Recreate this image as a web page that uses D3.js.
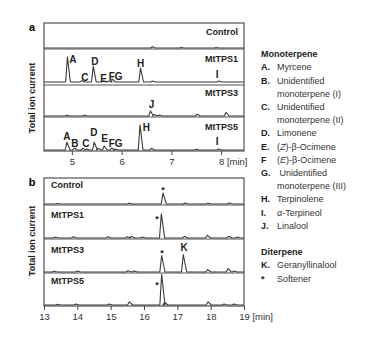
<!DOCTYPE html>
<html>
<head>
<meta charset="utf-8">
<script src="https://cdn.jsdelivr.net/npm/d3@7"></script>
<style>
  body { margin: 0; background: #fff; }
  svg { font-family: "Liberation Sans", Arial, sans-serif; }
</style>
</head>
<body>
<svg id="chart" width="369" height="340"></svg>
<script>
(function(){

  // DATA ////////////////////////////////////////////////////////////////////

  var samples = ["Control", "MtTPS1", "MtTPS3", "MtTPS5"];

  var ticksA = [5, 6, 7, 8];
  var ticksB = [13, 14, 15, 16, 17, 18, 19];

  // peaks: [retention time (min), intensity (% of row)]
  var peaksA_Control = [[6.62, 5], [7.2, 2], [7.9, 2]];
  var peaksA_TPS1 = [[4.91, 76], [5.2, 4], [5.43, 48], [5.63, 3], [5.75, 4], [5.81, 9], [6.38, 42], [6.62, 3], [7.95, 3]];
  var peaksA_TPS3 = [[4.9, 2], [5.25, 2], [6.58, 16], [6.66, 5], [6.76, 3], [7.52, 6], [8.1, 12]];
  var peaksA_TPS5 = [[4.9, 24], [5.05, 6], [5.22, 5], [5.3, 3], [5.45, 24], [5.53, 5], [5.65, 12], [5.8, 6], [5.87, 3], [6.37, 76], [6.6, 5], [7.5, 2], [7.95, 3]];

  var peaksB_Control = [[13.4, 2], [15.55, 3], [16.57, 42], [17.23, 4], [17.92, 3], [18.55, 4]];
  var peaksB_TPS1 = [[13.33, 3], [13.88, 4], [14.92, 4], [15.5, 4], [15.62, 5], [15.95, 3], [16.52, 73], [17.21, 5], [17.9, 8], [18.54, 5], [18.8, 3]];
  var peaksB_TPS3 = [[13.3, 2], [14.0, 3], [15.52, 4], [15.7, 3], [16.53, 50], [17.18, 53], [17.91, 7], [18.52, 10], [18.7, 3]];
  var peaksB_TPS5 = [[13.4, 2], [13.95, 3], [14.95, 3], [15.56, 10], [16.53, 96], [16.62, 8], [17.92, 10], [18.4, 3], [18.7, 3]];

  // peak annotations: [label, time, intensity]
  var labelsA_Control = [];
  var labelsA_TPS1 = [["A", 5.02, 70], ["C", 5.26, 15], ["D", 5.46, 61], ["E", 5.64, 12], ["FG", 5.88, 18], ["H", 6.38, 55], ["I", 7.92, 24]];
  var labelsA_TPS3 = [["J", 6.6, 39]];
  var labelsA_TPS5 = [["A", 4.9, 42], ["B", 5.06, 21], ["C", 5.28, 21], ["D", 5.44, 52], ["E", 5.66, 36], ["FG", 5.88, 21], ["H", 6.5, 70], ["I", 7.92, 27]];

  var labelsB_Control = [["*", 16.57, 62]];
  var labelsB_TPS1 = [["*", 16.39, 64]];
  var labelsB_TPS3 = [["*", 16.54, 64], ["K", 17.2, 76]];
  var labelsB_TPS5 = [["*", 16.39, 69]];

  var legendKeys = ["Monoterpene", "A.", "B.", "", "C.", "", "D.", "E.", "F", "G.", "", "H.", "I.", "J.", "", "Diterpene", "K.", "*"];
  var legendNames = ["", "Myrcene", "Unidentified", "monoterpene (I)", "Unidentified", "monoterpene (II)", "Limonene",
    "(<i>Z</i>)-\u03b2-Ocimene", "(<i>E</i>)-\u03b2-Ocimene", " Unidentified", "monoterpene (III)", "Terpinolene",
    "\u03b1-Terpineol", "Linalool", "", "", "Geranyllinalool", "Softener"];

  // LAYOUT //////////////////////////////////////////////////////////////////

  var svg = d3.select("#chart");
  var left = 44, right = 244;
  var lineColor = "#3a3a3a";

  var panels = [
    {
      name: "a", domain: [4.44, 8.46], ticks: ticksA, rows: [23, 49, 85, 117, 151],
      offs: [1, 3, 1, 1], wl: 0.035, wr: 0.06,
      peaks: [peaksA_Control, peaksA_TPS1, peaksA_TPS3, peaksA_TPS5],
      labels: [labelsA_Control, labelsA_TPS1, labelsA_TPS3, labelsA_TPS5],
      nameX: 238, nameAnchor: "end", nameY: [32, 59, 93, 127], titleY: 98
    },
    {
      name: "b", domain: [13, 19], ticks: ticksB, rows: [178, 205, 239, 273, 306],
      offs: [1, 1, 1, 1], wl: 0.055, wr: 0.1,
      peaks: [peaksB_Control, peaksB_TPS1, peaksB_TPS3, peaksB_TPS5],
      labels: [labelsB_Control, labelsB_TPS1, labelsB_TPS3, labelsB_TPS5],
      nameX: 51, nameAnchor: "start", nameY: [185, 215, 250, 281], titleY: 241
    }
  ];

  function tracePoints(peaks, domain, wl, wr){
    var pts = [[domain[0], 0]];
    peaks.slice().sort(function(a, b){ return a[0] - b[0]; }).forEach(function(p){
      pts.push([p[0] - wl, 0], [p[0], p[1]], [p[0] + wr, 0]);
    });
    pts.push([domain[1], 0]);
    return pts;
  }

  // PANELS //////////////////////////////////////////////////////////////////

  panels.forEach(function(p){

    var x = d3.scaleLinear().domain(p.domain).range([left, right]);
    var top = p.rows[0], bottom = p.rows[p.rows.length - 1];

    // rows
    samples.forEach(function(s, i){
      var rTop = p.rows[i], rBot = p.rows[i + 1];
      var y = d3.scaleLinear().domain([0, 100]).range([rBot - p.offs[i], rTop]);

      var line = d3.line()
        .x(function(d){ return x(d[0]); })
        .y(function(d){ return y(d[1]); });

      svg.append("path")
        .datum(tracePoints(p.peaks[i], p.domain, p.wl, p.wr))
        .attr("d", line)
        .attr("fill", "none")
        .attr("stroke", lineColor)
        .attr("stroke-width", 1.1)
        .attr("stroke-linejoin", "round");

      svg.append("text")
        .attr("x", p.nameX)
        .attr("y", p.nameY[i])
        .attr("dy", "0.35em")
        .attr("text-anchor", p.nameAnchor)
        .attr("font-size", 9)
        .attr("font-weight", "bold")
        .attr("fill", "#222")
        .text(s);

      svg.selectAll(null)
        .data(p.labels[i])
        .enter()
        .append("text")
        .attr("x", function(d){ return x(d[1]); })
        .attr("y", function(d){ return y(d[2]); })
        .attr("dy", function(d){ return d[0] === "*" ? "0.6em" : "0.36em"; })
        .attr("text-anchor", "middle")
        .attr("font-size", function(d){ return d[0] === "*" ? 9 : 10; })
        .attr("font-weight", "bold")
        .attr("fill", "#222")
        .text(function(d){ return d[0]; });

      if(i > 0){
        svg.append("line")
          .attr("x1", left).attr("x2", right)
          .attr("y1", rTop).attr("y2", rTop)
          .attr("stroke", "#555")
          .attr("stroke-width", 1.2);
      }
    });

    // frame
    svg.append("rect")
      .attr("x", left).attr("y", top)
      .attr("width", right - left).attr("height", bottom - top)
      .attr("fill", "none")
      .attr("stroke", "#444")
      .attr("stroke-width", 1.1);

    // x axis
    var axis = d3.axisBottom(x).tickValues(p.ticks).tickFormat(d3.format("d")).tickSize(4).tickSizeOuter(0);
    var g = svg.append("g")
      .attr("transform", "translate(0," + bottom + ")")
      .call(axis);
    g.select(".domain").remove();
    g.selectAll("line").attr("stroke", "#444");
    g.selectAll("text")
      .attr("font-size", 9.5)
      .attr("font-family", "Liberation Sans, Arial, sans-serif")
      .attr("fill", "#333");
    var last = g.selectAll(".tick text").filter(function(d){ return d === p.ticks[p.ticks.length - 1]; });
    var w = last.node().getComputedTextLength();
    last.attr("text-anchor", "start").attr("x", -w / 2).text(function(d){ return d + " [min]"; });

    // panel letter
    svg.append("text")
      .attr("x", 32).attr("y", top + 4)
      .attr("dy", "0.35em")
      .attr("text-anchor", "middle")
      .attr("font-size", 11)
      .attr("font-weight", "bold")
      .text(p.name);

    // y title
    svg.append("text")
      .attr("transform", "translate(32," + p.titleY + ") rotate(-90)")
      .attr("dy", "0.35em")
      .attr("text-anchor", "middle")
      .attr("font-size", 9)
      .attr("font-weight", "bold")
      .attr("fill", "#222")
      .text("Total ion current");
  });

  // LEGEND //////////////////////////////////////////////////////////////////

  var legend = svg.append("g");
  legendKeys.forEach(function(k, i){
    var yy = 54 + i * 13.2;
    var header = (k === "Monoterpene" || k === "Diterpene");
    legend.append("text")
      .attr("x", 261).attr("y", yy)
      .attr("dy", "0.35em")
      .attr("font-size", 9)
      .attr("font-weight", "bold")
      .attr("fill", "#222")
      .text(k);
    if(legendNames[i] && !header){
      legend.append("text")
        .attr("x", 277).attr("y", yy)
        .attr("dy", "0.35em")
        .attr("font-size", 9)
        .attr("fill", "#333")
        .attr("xml:space", "preserve")
        .html(legendNames[i].replace(/<i>/g, '<tspan font-style="italic">').replace(/<\/i>/g, '</tspan>'));
    }
  });

})();
</script>
</body>
</html>
